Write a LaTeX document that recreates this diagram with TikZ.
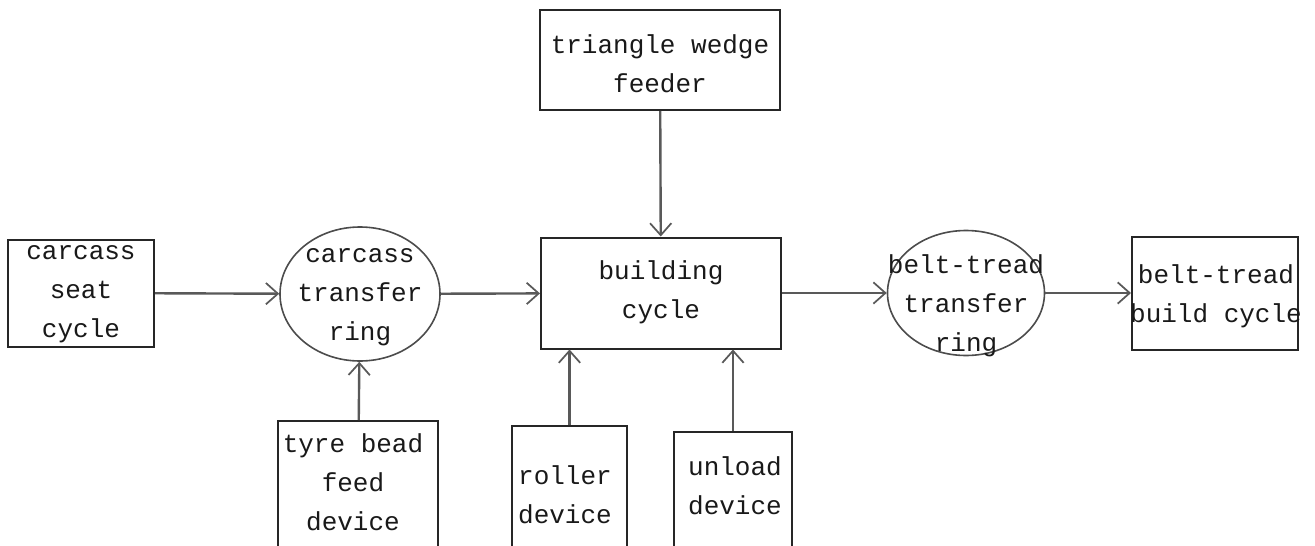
\documentclass[tikz,border=0pt]{standalone}
\usepackage{fontspec}
\setmainfont{Liberation Mono}
\usetikzlibrary{shapes.geometric,arrows.meta}
\begin{document}
\begin{tikzpicture}[x=0.75pt,y=-0.75pt,
  box/.style={draw=black!85,line width=1.5pt,rectangle,inner sep=0pt},
  ring/.style={draw=black!70,line width=1.2pt,ellipse,inner sep=0pt},
  txt/.style={align=center,inner sep=0pt,text=black!90,font=\fontsize{19.5pt}{29.25pt}\selectfont},
  conn/.style={draw=black!65,line width=1.8pt,-{Straight Barb[length=9pt,width=16pt,line width=1.3pt]}}]
\useasboundingbox (0,0) rectangle (1315,546);
\fill[white] (0,0) rectangle (1315,546);
% shapes
\node[box,minimum width=109.5pt,minimum height=80.25pt] (seat) at (81,293) {};
\node[ring,minimum width=120pt,minimum height=100.5pt] (ring1) at (360,294) {};
\node[box,minimum width=180pt,minimum height=83.25pt] (build) at (661,293) {};
\node[box,minimum width=180pt,minimum height=75pt] (feeder) at (660,60) {};
\node[ring,minimum width=117.75pt,minimum height=93.75pt] (ring2) at (966,293) {};
\node[box,minimum width=124.5pt,minimum height=84.75pt] (btbc) at (1215,293) {};
\node[box,minimum width=120pt,minimum height=108.75pt] (tyre) at (358,493.5) {};
\node[box,minimum width=86.25pt,minimum height=105pt] (roller) at (569.5,496) {};
\node[box,minimum width=88.5pt,minimum height=100.5pt] (unload) at (733,499) {};
% texts
\node[txt] (tseat) at (81,294) {carcass\\seat\\cycle};
\node[txt] (tring1) at (360,297) {carcass\\transfer\\ring};
\node[txt] (tbuild) at (661,292) {building\\cycle};
\node[txt] (tfeeder) at (660,64) {triangle wedge\\feeder};
\node[txt] (tring2) at (966,306) {belt-tread\\transfer\\ring};
\node[txt] (tbtbc) at (1216,296) {belt-tread\\build cycle};
\node[txt] (ttyre) at (353,482) {tyre bead\\feed\\device};
\node[txt] (troller) at (565,495) {roller\\device};
\node[txt] (tunload) at (735,486) {unload\\device};
% connectors
\draw[conn] (seat) -- (ring1);
\draw[conn] (ring1) -- (build);
\draw[conn] (build) -- (ring2);
\draw[conn] (ring2) -- (btbc);
\draw[conn] (feeder) -- (build);
\draw[conn] (tyre) -- (ring1);
\draw[conn] (roller.north) -- (roller.north |- build.south);
\draw[conn] (unload.north) -- (unload.north |- build.south);
\end{tikzpicture}
\end{document}
